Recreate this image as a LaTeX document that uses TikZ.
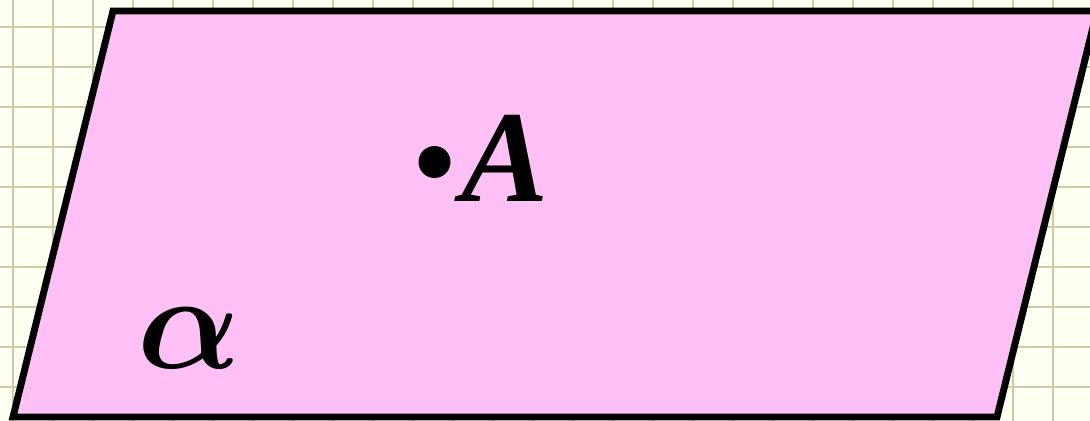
\RequirePackage{fix-cm}
\documentclass[tikz,border=0pt]{standalone}
\usepackage{bm}
\usepackage{fontspec}
\setmainfont{Liberation Serif}
\definecolor{paper}{RGB}{255,255,242}
\definecolor{gridline}{RGB}{205,205,165}
\definecolor{planefill}{RGB}{255,192,245}
\begin{document}
\begin{tikzpicture}[x=0.75pt,y=-0.75pt,
  gridstyle/.style={draw=gridline,line width=1.5pt},
  planestyle/.style={draw=black,fill=planefill,line width=5.2pt,line join=miter},
  lbl/.style={inner sep=0pt}]
\useasboundingbox (0,0) rectangle (1090,421);
\fill[paper] (0,0) rectangle (1090,421);
\clip (0,0) rectangle (1090,421);
\foreach \gx in {13,53,...,1093} \draw[gridstyle] (\gx,0) -- (\gx,421);
\foreach \gy in {27,67,...,427} \draw[gridstyle] (0,\gy) -- (1090,\gy);
\coordinate (p1) at (13,417);
\coordinate (p2) at (997,417);
\coordinate (p3) at (1097,11);
\coordinate (p4) at (113,11);
\draw[planestyle] (p1) -- (p2) -- (p3) -- (p4) -- cycle;
\node[circle,fill=black,inner sep=0pt,minimum size=24pt] (dot) at (434.5,162) {};
\node[lbl,anchor=base west,font=\fontsize{98}{100}\selectfont\bfseries\itshape] (A) at (461,201) {A};
\node[lbl,anchor=base west,font=\fontsize{102}{104}\selectfont] (alpha) at (137,368) {$\bm{\alpha}$};
\end{tikzpicture}
\end{document}
